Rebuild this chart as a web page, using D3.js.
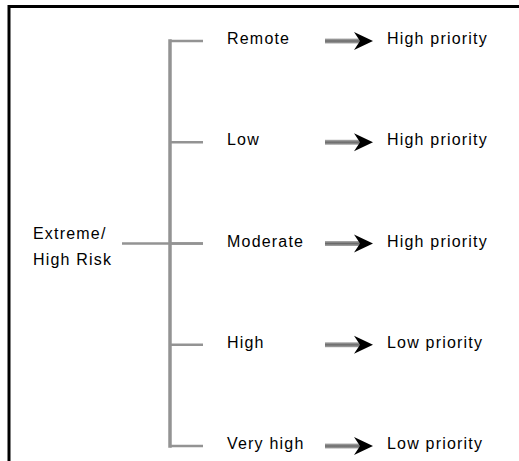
<!DOCTYPE html>
<html>
<head>
<meta charset="utf-8">
<script src="https://cdn.jsdelivr.net/npm/d3@7"></script>
<style>
  html, body { margin: 0; padding: 0; background: #fff; }
  svg { display: block; }
  text { font-family: "Liberation Sans", Arial, sans-serif; font-size: 16px; letter-spacing: 1.2px; fill: #000; }
</style>
</head>
<body>
<svg id="chart" width="519" height="461"></svg>
<script>
// ---- data ----
const rootLabel = ["Extreme/", "High Risk"];
const riskLevels = ["Remote", "Low", "Moderate", "High", "Very high"];
const priorities = ["High priority", "High priority", "High priority", "Low priority", "Low priority"];

const rows = riskLevels.map((r, i) => ({ risk: r, priority: priorities[i] }));

const svg = d3.select("#chart");
const W = 519, H = 461;

// frame (top and left edges visible)
svg.append("line").attr("x1", 8).attr("x2", W).attr("y1", 6.5).attr("y2", 6.5)
  .attr("stroke", "#000").attr("stroke-width", 3);
svg.append("line").attr("x1", 9).attr("x2", 9).attr("y1", 5).attr("y2", H)
  .attr("stroke", "#000").attr("stroke-width", 3);

// scales
const y = d3.scalePoint().domain(riskLevels).range([41, 446]);
const x = d3.scaleLinear().domain([0, 1]).range([0, 1]); // identity horizontal

const xRootText = 33, xRootLineStart = 122, xBracket = 170, xBranchEnd = 203;
const xLabel = 227, xArrowStart = 325, xArrowTip = 373, xPriority = 387;

const gray = "#939393";
const midY = y(riskLevels[2]);

// bracket vertical
svg.append("line")
  .attr("x1", x(xBracket)).attr("x2", x(xBracket))
  .attr("y1", y(riskLevels[0])).attr("y2", y(riskLevels[riskLevels.length - 1]))
  .attr("stroke", gray).attr("stroke-width", 3.5).attr("stroke-linecap", "square");

// branches
svg.selectAll("line.branch").data(rows).join("line")
  .attr("class", "branch")
  .attr("x1", x(xBracket)).attr("x2", x(xBranchEnd))
  .attr("y1", d => y(d.risk)).attr("y2", d => y(d.risk))
  .attr("stroke", gray).attr("stroke-width", 2.5);

// root connector
svg.append("line")
  .attr("x1", x(xRootLineStart)).attr("x2", x(xBranchEnd))
  .attr("y1", midY).attr("y2", midY)
  .attr("stroke", gray).attr("stroke-width", 2.5);

// root label
const rootText = svg.append("text").attr("x", x(xRootText)).attr("y", 239);
rootText.selectAll("tspan").data(rootLabel).join("tspan")
  .attr("x", x(xRootText))
  .attr("dy", (d, i) => i === 0 ? 0 : 26)
  .text(d => d);

// risk labels
svg.selectAll("text.risk").data(rows).join("text")
  .attr("class", "risk")
  .attr("x", x(xLabel))
  .attr("y", d => y(d.risk) + 3)
  .text(d => d.risk);

// arrow gradient
const defs = svg.append("defs");
const grad = defs.append("linearGradient").attr("id", "shaft")
  .attr("x1", 0).attr("x2", 0).attr("y1", 0).attr("y2", 1);
grad.append("stop").attr("offset", "0%").attr("stop-color", "#b0b0b0");
grad.append("stop").attr("offset", "50%").attr("stop-color", "#6a6a6a");
grad.append("stop").attr("offset", "100%").attr("stop-color", "#a8a8a8");

const arrows = svg.selectAll("g.arrow").data(rows).join("g")
  .attr("class", "arrow")
  .attr("transform", d => `translate(0,${y(d.risk)})`);

arrows.append("rect")
  .attr("x", x(xArrowStart)).attr("y", -2.5)
  .attr("width", x(xArrowTip - 12) - x(xArrowStart)).attr("height", 5)
  .attr("fill", "url(#shaft)");

arrows.append("path")
  .attr("d", () => {
    const t = x(xArrowTip);
    return `M${t},0 L${t - 19},-9 L${t - 13},0 L${t - 19},9 Z`;
  })
  .attr("fill", "#000");

// priority labels
svg.selectAll("text.priority").data(rows).join("text")
  .attr("class", "priority")
  .attr("x", x(xPriority))
  .attr("y", d => y(d.risk) + 3)
  .text(d => d.priority);
</script>
</body>
</html>
